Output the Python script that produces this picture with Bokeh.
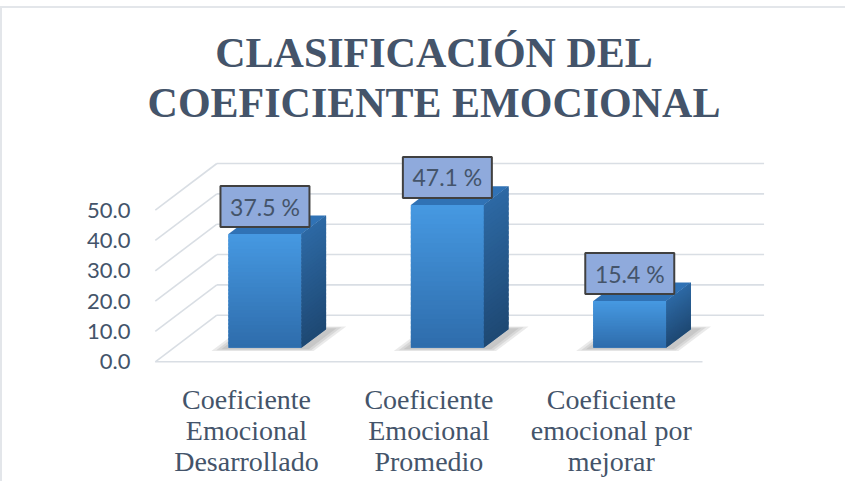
from bokeh.plotting import figure
from bokeh.models import Range1d, FixedTicker
from bokeh.core.properties import value
from bokeh.embed import file_html
from bokeh.resources import INLINE

# ---------------- data ----------------
categories = ["Coeficiente\nEmocional\nDesarrollado",
              "Coeficiente\nEmocional\nPromedio",
              "Coeficiente\nemocional por\nmejorar"]
percentages = [37.5, 47.1, 15.4]
y_ticks = [0, 10, 20, 30, 40, 50]
y_tick_labels = ["0.0", "10.0", "20.0", "30.0", "40.0", "50.0"]
title_lines = ["CLASIFICACIÓN DEL", "COEFICIENTE EMOCIONAL"]

# ---------------- 3D look (data units) ----------------
DEPTH_X = 0.3375      # x shift of the full depth (category units)
DEPTH_Y = 15.36       # y shift of the full depth (value units)
Z0, Z1 = 0.30, 0.70   # bar front / back depth
BAR_W = 0.40
X_MIN, X_MAX = -0.5, 2.5

# page mapping used to size the frame
CANVAS_X, CANVAS_Y = 8, 8
W, H = 845, 481
U0_PAGE, PX_U = 254.0, 182.4
V0_PAGE, PX_V = 369.3, 3.034
FRAME_L, FRAME_R, FRAME_T, FRAME_B = 150, 790, 20, 371

x_range = Range1d((FRAME_L - U0_PAGE) / PX_U, (FRAME_R - U0_PAGE) / PX_U)
y_range = Range1d((V0_PAGE - FRAME_B) / PX_V, (V0_PAGE - FRAME_T) / PX_V)

p = figure(width=W, height=H, x_range=x_range, y_range=y_range,
           output_backend="svg", toolbar_location=None,
           min_border_left=FRAME_L - CANVAS_X,
           min_border_right=CANVAS_X + W - FRAME_R,
           min_border_top=FRAME_T - CANVAS_Y,
           min_border_bottom=CANVAS_Y + H - FRAME_B,
           background_fill_color="white", border_fill_color=None,
           styles={"box-shadow": "inset 0 6px 0 0 #FFFFFF, inset 0 8px 0 0 #E3E6EA, "
                                 "inset 2px 0 0 0 #E3E6EA",
                   "background-color": "#FFFFFF"})
p.outline_line_color = None
p.xgrid.visible = False
p.ygrid.visible = False

GRID = "#D9DEE4"
# back wall lines
p.segment(x0=[X_MIN + DEPTH_X] * len(y_ticks), y0=[t + DEPTH_Y for t in y_ticks],
          x1=[X_MAX + DEPTH_X] * len(y_ticks), y1=[t + DEPTH_Y for t in y_ticks],
          line_color=GRID, line_width=1.6)
# side wall lines
p.segment(x0=[X_MIN] * len(y_ticks), y0=y_ticks,
          x1=[X_MIN + DEPTH_X] * len(y_ticks), y1=[t + DEPTH_Y for t in y_ticks],
          line_color=GRID, line_width=1.6)
# floor front edge
p.segment(x0=[X_MIN], y0=[0], x1=[X_MAX], y1=[0], line_color=GRID, line_width=1.6)


def hx(c):
    return tuple(int(c[i:i + 2], 16) for i in (1, 3, 5))


def lerp(c1, c2, t):
    a, b = hx(c1), hx(c2)
    return "#%02x%02x%02x" % tuple(round(a[k] + (b[k] - a[k]) * t) for k in range(3))


FRONT_BOT, FRONT_TOP = "#2E6CAB", "#4699E2"
SIDE_BOT, SIDE_TOP = "#1E4873", "#2D69A4"
TOP_COL = "#3072B5"
N = 30

dzx = (Z1 - Z0) * DEPTH_X
dzy = (Z1 - Z0) * DEPTH_Y

# shadows on the floor
sh_xs, sh_ys = [], []
for i, val in enumerate(percentages):
    for grow in (0.0, 0.02, 0.04):
        za, zb = Z0 - 0.03 - grow, Z1 + 0.02 + grow
        xl = i - BAR_W / 2 - 0.03 - grow
        xr = i + BAR_W / 2 + 0.05 + grow
        sh_xs.append([xl + za * DEPTH_X, xr + za * DEPTH_X, xr + zb * DEPTH_X, xl + zb * DEPTH_X])
        sh_ys.append([za * DEPTH_Y, za * DEPTH_Y, zb * DEPTH_Y, zb * DEPTH_Y])
p.patches(sh_xs, sh_ys, fill_color="#5A5A5A", fill_alpha=0.13, line_color=None)

# bar faces: solid base faces first, then gradient slices (slightly overlapping)
bfl, bfr, bfb, bft = [], [], [], []
bsx, bsy = [], []
fl, fr, fb, ft, fc = [], [], [], [], []
sx, sy, sc = [], [], []
tx, ty = [], []
for i, val in enumerate(percentages):
    xl = i - BAR_W / 2 + Z0 * DEPTH_X
    xr = xl + BAR_W
    yb = Z0 * DEPTH_Y
    yt = val + Z0 * DEPTH_Y
    bfl.append(xl); bfr.append(xr); bfb.append(yb); bft.append(yt)
    bsx.append([xr, xr + dzx, xr + dzx, xr])
    bsy.append([yb, yb + dzy, yt + dzy, yt])
    step = (yt - yb) / N
    for k in range(N):
        v0 = yb + step * k
        v1 = min(yt, v0 + step * 1.6)
        t = (k + 0.5) / N
        fl.append(xl); fr.append(xr); fb.append(v0); ft.append(v1)
        fc.append(lerp(FRONT_BOT, FRONT_TOP, t))
        sx.append([xr, xr + dzx, xr + dzx, xr])
        sy.append([v0, v0 + dzy, v1 + dzy, v1])
        sc.append(lerp(SIDE_BOT, SIDE_TOP, t))
    tx.append([xl, xr, xr + dzx, xl + dzx])
    ty.append([yt, yt, yt + dzy, yt + dzy])

p.quad(left=bfl, right=bfr, bottom=bfb, top=bft, fill_color="#3A84CC", line_color=None)
p.patches(bsx, bsy, fill_color="#26598C", line_color=None)
p.quad(left=fl, right=fr, bottom=fb, top=ft, fill_color=fc, line_color=None)
p.patches(sx, sy, fill_color=sc, line_color=None)
p.patches(tx, ty, fill_color=TOP_COL, line_color=None)

# data labels
lab_x = [i + Z0 * DEPTH_X for i in range(len(percentages))]
lab_y = [v + Z0 * DEPTH_Y + 9.06 for v in percentages]
lab_t = ["%.1f %%" % v for v in percentages]
p.rect(x=lab_x, y=lab_y, width=89, height=41, width_units="screen", height_units="screen",
       fill_color="#8FAADC", line_color="#404040", line_width=2)
p.text(x=lab_x, y=lab_y, text=lab_t, text_align="center", text_baseline="middle",
       text_font=value("Lato"), text_font_size="23px", text_color="#44546A")

# axes
p.yaxis.ticker = FixedTicker(ticks=y_ticks)
p.yaxis.major_label_overrides = {t: s for t, s in zip(y_ticks, y_tick_labels)}
p.yaxis.axis_line_color = None
p.yaxis.major_tick_line_color = None
p.yaxis.minor_tick_line_color = None
p.yaxis.major_tick_out = 0
p.yaxis.major_tick_in = 0
p.yaxis.major_label_standoff = 12
p.yaxis.major_label_text_font = "Lato"
p.yaxis.major_label_text_font_size = "22px"
p.yaxis.major_label_text_color = "#44546A"

p.xaxis.ticker = FixedTicker(ticks=list(range(len(categories))))
p.xaxis.major_label_overrides = {i: c for i, c in enumerate(categories)}
p.xaxis.axis_line_color = None
p.xaxis.major_tick_line_color = None
p.xaxis.minor_tick_line_color = None
p.xaxis.major_tick_out = 0
p.xaxis.major_tick_in = 0
p.xaxis.major_label_standoff = 20
p.xaxis.major_label_text_font = "Liberation Serif"
p.xaxis.major_label_text_font_size = "28px"
p.xaxis.major_label_text_color = "#44546A"
p.xaxis.major_label_text_line_height = 1.0

# title (two centred lines, drawn inside the frame)
title_u = (441.5 - U0_PAGE) / PX_U
title_v = [(V0_PAGE - py) / PX_V for py in (60, 110)]
p.text(x=[title_u] * 2, y=title_v, text=title_lines,
       text_align="center", text_baseline="middle",
       text_font=value("Liberation Serif"), text_font_style="bold",
       text_font_size="42px", text_color="#44546A")

open("out.html", "w").write(file_html(p, INLINE))
